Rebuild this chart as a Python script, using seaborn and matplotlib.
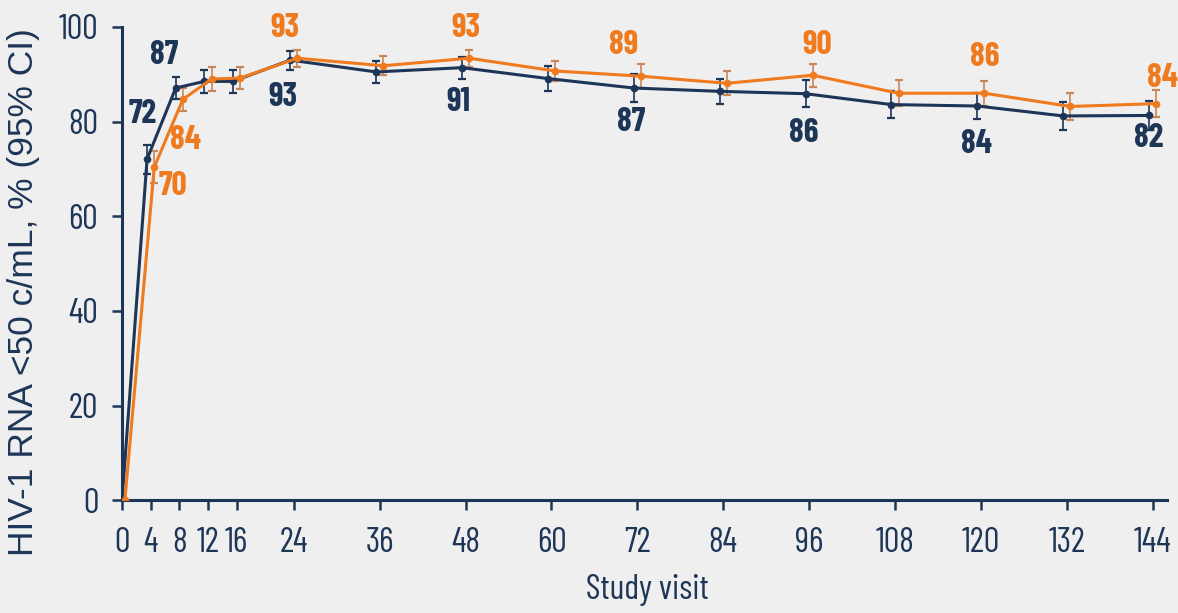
import matplotlib
matplotlib.use("Agg")
import matplotlib.pyplot as plt
import seaborn as sns
import pandas as pd
import numpy as np

# ---- data ----
weeks = [0, 4, 8, 12, 16, 24, 36, 48, 60, 72, 84, 96, 108, 120, 132, 144]
navy_vals = [0, 72.1, 87.1, 88.5, 88.5, 93.0, 90.5, 91.4, 89.1, 87.1, 86.4, 85.9, 83.6, 83.3, 81.2, 81.3]
navy_lo = [0, 69.0, 84.8, 86.1, 86.1, 91.0, 88.2, 89.1, 86.5, 84.2, 83.7, 83.1, 80.8, 80.5, 78.3, 78.3]
navy_hi = [0, 75.1, 89.4, 90.9, 90.9, 95.0, 92.8, 93.7, 91.7, 90.0, 89.1, 88.7, 86.4, 86.1, 84.1, 84.3]
orange_vals = [0, 70.4, 84.7, 89.0, 89.2, 93.4, 91.8, 93.4, 90.7, 89.6, 88.1, 89.8, 86.0, 86.0, 83.2, 83.8]
orange_lo = [0, 67.1, 82.3, 86.5, 86.8, 91.6, 89.8, 91.6, 88.5, 87.1, 85.6, 87.4, 83.3, 83.4, 80.4, 81.0]
orange_hi = [0, 73.7, 87.1, 91.5, 91.6, 95.2, 93.8, 95.2, 92.9, 92.1, 90.6, 92.2, 88.7, 88.6, 86.0, 86.6]
navy_labels = {4: "72", 8: "87", 24: "93", 48: "91", 72: "87", 96: "86", 120: "84", 144: "82"}
orange_labels = {4: "70", 8: "84", 24: "93", 48: "93", 72: "89", 96: "90", 120: "86", 144: "84"}
xticks = [0, 4, 8, 12, 16, 24, 36, 48, 60, 72, 84, 96, 108, 120, 132, 144]
yticks = [0, 20, 40, 60, 80, 100]

# label offsets in pixels (style)
navy_off = {4: (-4, 45), 8: (-12, 33), 24: (-7, -37), 48: (-4, -34), 72: (-3, -34),
            96: (-2, -39), 120: (-1, -38), 144: (0, -23)}
orange_off = {4: (19, -19), 8: (3, -41), 24: (-12, 30), 48: (-3, 30), 72: (-17, 31),
              96: (5, 30), 120: (0, 36), 144: (6, 26)}

NAVY = "#1d3557"
ORANGE = "#f07a1e"
ORANGE_ERR = "#c8875a"
BG = "#efefef"

sns.set_theme(style="white")
narrow = ["Barlow Condensed", "Roboto Condensed", "Archivo Narrow", "DejaVu Sans"]
plt.rcParams["font.family"] = narrow

fig = plt.figure(figsize=(11.78, 6.13), dpi=100, facecolor=BG)
ax = fig.add_axes([0.1036, 0.184, 0.887, 0.772])
ax.set_facecolor(BG)

shift = {"navy": -0.5, "orange": 0.5}
df = pd.DataFrame({
    "week": [w + (shift["navy"] if w > 0 else 0) for w in weeks] + [w + (shift["orange"] if w > 0 else 0.4) for w in weeks],
    "val": navy_vals + orange_vals,
    "arm": ["navy"] * len(weeks) + ["orange"] * len(weeks),
})

# error bars
for arm, vals, lo, hi, col in [("navy", navy_vals, navy_lo, navy_hi, NAVY),
                               ("orange", orange_vals, orange_lo, orange_hi, ORANGE_ERR)]:
    xs = df[df.arm == arm]["week"].values
    v = np.array(vals); l = np.array(lo); h = np.array(hi)
    ax.errorbar(xs[1:], v[1:], yerr=[v[1:] - l[1:], h[1:] - v[1:]], fmt="none",
                ecolor=col, elinewidth=1.2, capsize=3, capthick=1.6, zorder=2)

sns.lineplot(data=df, x="week", y="val", hue="arm", palette={"navy": NAVY, "orange": ORANGE},
             marker="o", markersize=5.5, markeredgewidth=0, linewidth=2.2, legend=False,
             ax=ax, zorder=3)

# data labels
for arm, labels, offs, col in [("navy", navy_labels, navy_off, NAVY),
                               ("orange", orange_labels, orange_off, ORANGE)]:
    sub = df[df.arm == arm].reset_index(drop=True)
    for w, txt in labels.items():
        i = weeks.index(w)
        ax.annotate(txt, (sub.loc[i, "week"], sub.loc[i, "val"]), xytext=offs[w],
                    textcoords="offset pixels", ha="center", va="center",
                    fontsize=24, fontweight="bold", color=col, family=narrow, zorder=5)

ax.set_xlim(0, 146)
ax.set_ylim(0, 100)
ax.set_xticks(xticks)
ax.set_yticks(yticks)
ax.tick_params(axis="both", which="both", direction="out", length=7.2, width=1.8,
               color=NAVY, labelcolor=NAVY, labelsize=25, left=True, bottom=True)
ax.tick_params(axis="x", pad=12)
ax.tick_params(axis="y", pad=10)
for s in ["top", "right"]:
    ax.spines[s].set_visible(False)
for s in ["left", "bottom"]:
    ax.spines[s].set_color(NAVY)
    ax.spines[s].set_linewidth(2.2)

ax.set_xlabel("Study visit", fontsize=25, color=NAVY, family=narrow, va="center", ha="center")
ax.xaxis.set_label_coords(0.503, -0.19)
ax.set_ylabel("HIV-1 RNA <50 c/mL, % (95% CI)", fontsize=25.5, color=NAVY,
              family=["Liberation Sans", "DejaVu Sans"], va="center", ha="center")
ax.yaxis.set_label_coords(-0.094, 0.44)

fig.savefig("out.png", dpi=100, facecolor=BG)
